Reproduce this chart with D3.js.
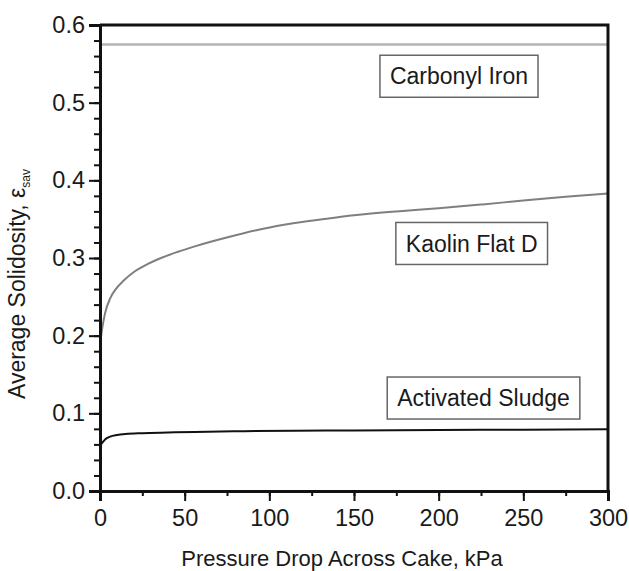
<!DOCTYPE html>
<html lang="en">
<head>
    <meta charset="UTF-8">
    <script src="https://cdnjs.cloudflare.com/ajax/libs/d3/7.8.5/d3.min.js"></script>
    <style>
        body { margin: 0; background: #fff; }
        svg { font-family: "Liberation Sans", Arial, sans-serif; }
    </style>
</head>
<body>
    <svg id="chart" width="629" height="571"></svg>
    <script>
        // pressure drop (kPa) vs average solidosity
        let carbonylIron = [[0, 0.575], [300, 0.575]];
        let kaolinFlatD = [
            [0, 0.19], [1, 0.205], [3, 0.229], [6, 0.248], [9, 0.259], [14, 0.271],
            [20, 0.282], [28, 0.292], [36, 0.300], [46, 0.308], [56, 0.315], [76, 0.327],
            [95, 0.337], [115, 0.345], [135, 0.351], [150, 0.355], [175, 0.360],
            [200, 0.364], [226, 0.369], [250, 0.374], [275, 0.379], [300, 0.383]
        ];
        let activatedSludge = [
            [0, 0.058], [2, 0.064], [4, 0.068], [6, 0.070], [10, 0.072], [15, 0.0734],
            [25, 0.0745], [40, 0.0753], [56, 0.076], [85, 0.077], [115, 0.0777],
            [150, 0.078], [200, 0.0785], [250, 0.079], [300, 0.0795]
        ];
        let xTicks = [0, 50, 100, 150, 200, 250, 300];
        let xMinorTicks = d3.range(0, 301, 25);
        let yTicks = [0, 0.1, 0.2, 0.3, 0.4, 0.5, 0.6];
        let yMinorTicks = d3.range(0, 0.6001, 0.02);
        let labels = [
            {text: "Carbonyl Iron", x: 212, y: 0.534},
            {text: "Kaolin Flat D", x: 219.5, y: 0.3187},
            {text: "Activated Sludge", x: 226.5, y: 0.1197}
        ];

        let svg = d3.select("#chart");
        let xScale = d3.scaleLinear().domain([0, 300]).range([100, 608]);
        let yScale = d3.scaleLinear().domain([0, 0.6]).range([491, 25]);

        let line = d3.line()
            .x(d => xScale(d[0]))
            .y(d => yScale(d[1]))
            .curve(d3.curveMonotoneX);

        let series = [
            {data: carbonylIron, color: "#b4b4b4", width: 2.5},
            {data: kaolinFlatD, color: "#7f7f7f", width: 2},
            {data: activatedSludge, color: "#111", width: 2}
        ];
        svg.selectAll("path.series")
            .data(series)
            .enter()
            .append("path")
            .attr("class", "series")
            .attr("d", d => line(d.data))
            .attr("fill", "none")
            .attr("stroke", d => d.color)
            .attr("stroke-width", d => d.width);

        // frame top and right
        svg.append("path")
            .attr("d", `M${xScale(0)},${yScale(0.6)}H${xScale(300)}V${yScale(0)}`)
            .attr("fill", "none")
            .attr("stroke", "#111")
            .attr("stroke-width", 3);

        let xMinor = d3.axisBottom(xScale).tickValues(xMinorTicks).tickSize(5).tickFormat("");
        let yMinor = d3.axisLeft(yScale).tickValues(yMinorTicks).tickSize(6).tickFormat("");
        let xAxis = d3.axisBottom(xScale).tickValues(xTicks).tickSize(10).tickPadding(8).tickFormat(d3.format("d"));
        let yAxis = d3.axisLeft(yScale).tickValues(yTicks).tickSize(11).tickPadding(4).tickFormat(d3.format(".1f"));

        svg.append("g").attr("transform", `translate(0,${yScale(0)})`).call(xMinor);
        svg.append("g").attr("transform", `translate(${xScale(0)},0)`).call(yMinor);
        svg.append("g").attr("class", "axis").attr("transform", `translate(0,${yScale(0)})`).call(xAxis);
        svg.append("g").attr("class", "axis").attr("transform", `translate(${xScale(0)},0)`).call(yAxis);

        svg.selectAll(".tick line").attr("stroke", "#111").attr("stroke-width", 2);
        svg.selectAll(".domain").attr("stroke", "#111").attr("stroke-width", 3);
        svg.selectAll(".axis text")
            .attr("font-size", 23.5)
            .attr("font-family", "Liberation Sans, Arial, sans-serif")
            .attr("fill", "#1a1a1a");

        svg.append("text")
            .attr("x", 342)
            .attr("y", 566)
            .attr("text-anchor", "middle")
            .attr("font-size", 22)
            .attr("fill", "#1a1a1a")
            .text("Pressure Drop Across Cake, kPa");

        let yTitle = svg.append("text")
            .attr("transform", "translate(25,284) rotate(-90)")
            .attr("text-anchor", "middle")
            .attr("font-size", 23)
            .attr("fill", "#1a1a1a");
        yTitle.append("tspan").text("Average Solidosity, ε");
        yTitle.append("tspan").attr("font-size", 12).attr("dy", 5).text("sav");

        let boxes = svg.selectAll("g.label")
            .data(labels)
            .enter()
            .append("g")
            .attr("class", "label")
            .attr("transform", d => `translate(${xScale(d.x)},${yScale(d.y)})`);
        boxes.append("text")
            .attr("text-anchor", "middle")
            .attr("dy", "0.35em")
            .attr("font-size", 23)
            .attr("fill", "#1a1a1a")
            .text(d => d.text);
        boxes.each(function () {
            let g = d3.select(this);
            let bb = g.select("text").node().getBBox();
            g.insert("rect", "text")
                .attr("x", bb.x - 10)
                .attr("y", -21)
                .attr("width", bb.width + 20)
                .attr("height", 42)
                .attr("fill", "#fff")
                .attr("stroke", "#666")
                .attr("stroke-width", 1.5);
        });
    </script>
</body>
</html>
